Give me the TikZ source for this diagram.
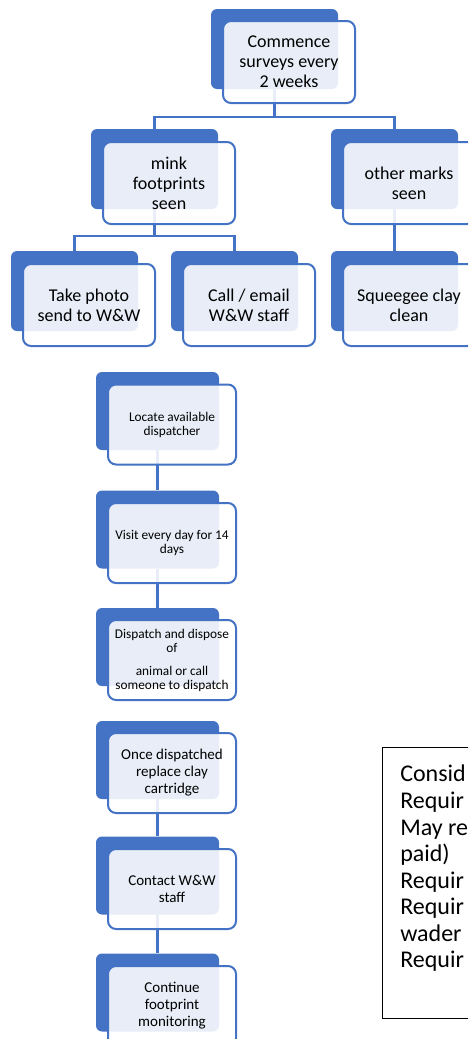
\documentclass[tikz,border=0pt]{standalone}
\usepackage{fontspec}
\setmainfont{Carlito}
\usetikzlibrary{backgrounds}
\definecolor{smartblue}{HTML}{4472C4}

\begin{document}
\begin{tikzpicture}[x=0.75pt,y=-0.75pt,
  back/.style={rectangle,fill=smartblue,rounded corners=4.5pt,minimum width=95.25pt,minimum height=60pt,inner sep=0pt},
  card/.style={rectangle,draw=smartblue,line width=1.5pt,fill=white,fill opacity=0.88,text opacity=1,rounded corners=6pt,minimum width=99pt,minimum height=61.5pt,inner sep=0pt,align=center,font=\fontsize{13.5}{15}\selectfont},
  smallback/.style={back,minimum width=92.25pt,minimum height=58.5pt},
  smallcard/.style={card,minimum width=96pt,minimum height=60pt,font=\fontsize{10}{10.5}\selectfont},
  midcard/.style={smallcard,font=\fontsize{11.25}{12.75}\selectfont},
  link/.style={draw=smartblue,line width=1.6pt},
  notebox/.style={draw=black,line width=1pt,minimum width=112.5pt,minimum height=203.25pt,inner sep=0pt},
  notetext/.style={align=left,inner sep=0pt,font=\fontsize{18}{19.9}\selectfont}]
\useasboundingbox (0,0) rectangle (468,1039);
\clip (0,0) rectangle (468,1039);

% survey tree
\node[back] (commenceb) at (274.5,49) {};
\node[card] (commence) at (289,62) {Commence\\surveys every\\2 weeks};
\node[back] (minkb) at (154.5,169) {};
\node[card] (mink) at (169,183) {mink\\footprints\\seen};
\node[back] (otherb) at (394.5,169) {};
\node[card] (other) at (409,183) {other marks\\seen};
\node[back] (photob) at (74.5,291) {};
\node[card] (photo) at (89,305) {Take photo\\send to W\&W};
\node[back] (callb) at (234.5,291) {};
\node[card] (call) at (249,305) {Call / email\\W\&W staff};
\node[back] (squeegeeb) at (394.5,291) {};
\node[card] (squeegee) at (409,305) {Squeegee clay\\clean};

% dispatch chain
\node[smallback] (locateb) at (157.5,411) {};
\node[smallcard] (locate) at (172,424.5) {Locate available\\dispatcher};
\node[smallback] (visitb) at (157.5,529.5) {};
\node[smallcard] (visit) at (172,543) {Visit every day for 14\\days};
\node[smallback] (dispatchb) at (157.5,647) {};
\node[smallcard] (dispatch) at (172,660) {Dispatch and dispose\\of\\[6.75pt]animal or call\\someone to dispatch};
\node[smallback] (onceb) at (157.5,760) {};
\node[midcard] (once) at (172,773) {Once dispatched\\replace clay\\cartridge};
\node[smallback] (contactb) at (157.5,875.5) {};
\node[midcard] (contact) at (172,889) {Contact W\&W\\staff};
\node[smallback] (continueb) at (157.5,992.5) {};
\node[midcard] (continue) at (172,1006) {Continue\\footprint\\monitoring};

% notes
\node[notebox,anchor=north west] (frame) at (382,747) {};
\node[notetext,anchor=north west] (notes) at (400,765) {Consid\\Requir\\May re\\paid)\\Requir\\Requir\\wader\\Requir};

\begin{scope}[on background layer]
\coordinate (bar1) at (274.5,117);
\coordinate (bar2) at (154.5,236);
\draw[link] (commenceb.south) -- (bar1);
\draw[link] (minkb.north) |- (bar1) -| (otherb.north);
\draw[link] (minkb.south) -- (bar2);
\draw[link] (photob.north) |- (bar2) -| (callb.north);
\draw[link] (otherb.south) -- (squeegeeb.north);
\draw[link] (locateb.south) -- (visitb.north);
\draw[link] (visitb.south) -- (dispatchb.north);
\draw[link] (onceb.south) -- (contactb.north);
\draw[link] (contactb.south) -- (continueb.north);
\end{scope}
\end{tikzpicture}
\end{document}
